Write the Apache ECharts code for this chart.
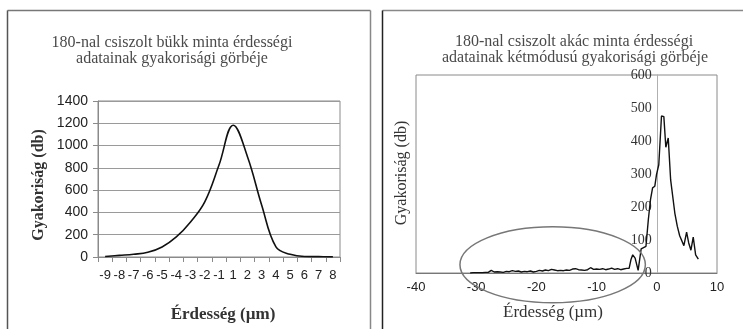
<!DOCTYPE html>
<html><head><meta charset="utf-8">
<script src="https://cdn.jsdelivr.net/npm/echarts@6/dist/echarts.min.js"></script>
<style>html,body{margin:0;padding:0;background:#fff}#c{width:743px;height:329px}</style>
</head><body><div id="c"></div>
<script>
// Left chart (bükk): categories and frequencies
const leftCategories = ['-9','-8','-7','-6','-5','-4','-3','-2','-1','1','2','3','4','5','6','7','8'];
const leftValues = [5, 15, 25, 42, 90, 180, 315, 495, 825, 1183, 900, 465, 90, 24, 4, 3, 1];
const leftYTicks = {min: 0, max: 1400, step: 200};

// Right chart (akác): roughness (µm) and frequency
const rightX = [-31,-30.5,-30,-29.5,-29,-28.5,-28,-27.5,-27,-26.5,-26,-25.5,-25,-24.5,-24,-23.5,-23,-22.5,-22,-21.5,-21,-20.5,-20,-19.5,-19,-18.5,-18,-17.5,-17,-16.5,-16,-15.5,-15,-14.5,-14,-13.5,-13,-12.5,-12,-11.5,-11,-10.5,-10,-9.5,-9,-8.5,-8,-7.5,-7,-6.5,-6,-5.5,-5,-4.6,-4.3,-4,-3.6,-3.1,-2.6,-2.3,-1.8,-1.4,-1.05,-0.7,-0.33,-0.05,0.33,0.78,1.17,1.5,1.9,2.3,2.55,3.0,3.4,3.8,4.1,4.5,4.95,5.3,5.67,6.05,6.45,6.9];
const rightY = [0,1,1,1,1,2,2,8,3,4,3,2,5,4,7,5,6,3,5,4,6,3,5,8,6,9,7,11,9,7,8,7,9,8,12,13,10,9,8,10,16,11,12,11,13,10,12,15,11,13,10,12,14,14,40,55,45,8,73,76,81,163,222,258,263,298,328,476,474,381,409,282,277,181,142,113,109,83,124,91,69,109,55,42];
const rightXTicks = {min: -40, max: 10, step: 10};
const rightYTicks = {min: 0, max: 600, step: 100};
// highlighted region (ellipse) in data units: centre x, centre y, half-width, half-height
const ellipseData = {cx: -17.3, cy: 25, rx: 15.4, ry: 115};

const serif = '"Liberation Serif", "Times New Roman", serif';
const sans = '"Liberation Sans", Arial, sans-serif';

const grid2 = {left: 416, top: 75, width: 301, height: 198};
// the right y axis sits at x = 0 of the value x axis
const yAxisShift = grid2.width * (0 - rightXTicks.min) / (rightXTicks.max - rightXTicks.min);

const chart = echarts.init(document.getElementById('c'), null, {renderer: 'canvas'});
chart.setOption({
  animation: false,
  backgroundColor: '#fff',
  grid: [
    {left: 98, top: 101, width: 242, height: 156, show: true, borderColor: '#8a8a8a', borderWidth: 1, containLabel: false},
    Object.assign({show: true, borderColor: '#8a8a8a', borderWidth: 1, containLabel: false}, grid2)
  ],
  xAxis: [
    {gridIndex: 0, type: 'category', data: leftCategories, boundaryGap: true,
     axisLine: {lineStyle: {color: '#8a8a8a'}},
     axisTick: {show: true, length: 5, lineStyle: {color: '#8a8a8a'}},
     axisLabel: {interval: 0, color: '#222', fontFamily: sans, fontSize: 13, margin: 12},
     splitLine: {show: false}},
    {gridIndex: 1, type: 'value', min: rightXTicks.min, max: rightXTicks.max, interval: rightXTicks.step,
     axisLine: {onZero: false, lineStyle: {color: '#777'}},
     axisTick: {show: false},
     axisLabel: {color: '#222', fontFamily: sans, fontSize: 13, margin: 8},
     splitLine: {show: false}}
  ],
  yAxis: [
    {gridIndex: 0, type: 'value', min: leftYTicks.min, max: leftYTicks.max, interval: leftYTicks.step,
     axisLine: {show: true, lineStyle: {color: '#8a8a8a'}},
     axisTick: {show: true, length: 5, lineStyle: {color: '#8a8a8a'}},
     axisLabel: {color: '#222', fontFamily: sans, fontSize: 14, margin: 10, formatter: v => String(v)},
     splitLine: {show: true, lineStyle: {color: '#9a9a9a', width: 1}}},
    {gridIndex: 1, type: 'value', min: rightYTicks.min, max: rightYTicks.max, interval: rightYTicks.step,
     position: 'left', offset: -yAxisShift,
     axisLine: {show: true, onZero: false, lineStyle: {color: '#b0b0b0'}},
     axisTick: {show: false},
     axisLabel: {color: '#333', fontFamily: serif, fontSize: 14, margin: 5, formatter: v => String(v)},
     splitLine: {show: false}}
  ],
  series: [
    {type: 'line', xAxisIndex: 0, yAxisIndex: 0, data: leftValues, smooth: 0.4, symbol: 'none',
     lineStyle: {color: '#111', width: 1.6}},
    {type: 'line', xAxisIndex: 1, yAxisIndex: 1, data: rightX.map((x, i) => [x, rightY[i]]), symbol: 'none',
     lineStyle: {color: '#111', width: 1.4}}
  ],
  graphic: [
    // panel frames
    {type: 'line', shape: {x1: 7.5, y1: 10.5, x2: 370.5, y2: 10.5}, style: {stroke: '#777', lineWidth: 1.5}},
    {type: 'line', shape: {x1: 7.5, y1: 10.5, x2: 7.5, y2: 340}, style: {stroke: '#555', lineWidth: 1.5}},
    {type: 'line', shape: {x1: 370.5, y1: 10.5, x2: 370.5, y2: 340}, style: {stroke: '#888', lineWidth: 1.5}},
    {type: 'line', shape: {x1: 382.5, y1: 10.5, x2: 760, y2: 10.5}, style: {stroke: '#888', lineWidth: 1.5}},
    {type: 'line', shape: {x1: 382.5, y1: 10.5, x2: 382.5, y2: 340}, style: {stroke: '#222', lineWidth: 1.5}},
    // titles
    {type: 'text', x: 172, y: 43, style: {text: '180-nal csiszolt bükk minta érdességi', font: '16px ' + serif, fill: '#4a4a4a', textAlign: 'center', textVerticalAlign: 'middle'}},
    {type: 'text', x: 172, y: 59, style: {text: 'adatainak gyakorisági görbéje', font: '16px ' + serif, fill: '#4a4a4a', textAlign: 'center', textVerticalAlign: 'middle'}},
    {type: 'text', x: 574, y: 42, style: {text: '180-nal csiszolt akác minta érdességi', font: '16px ' + serif, fill: '#4a4a4a', textAlign: 'center', textVerticalAlign: 'middle'}},
    {type: 'text', x: 575, y: 58, style: {text: 'adatainak kétmódusú gyakorisági görbéje', font: '16px ' + serif, fill: '#4a4a4a', textAlign: 'center', textVerticalAlign: 'middle'}},
    // axis names
    {type: 'text', x: 39, y: 185, rotation: Math.PI / 2, style: {text: 'Gyakoriság (db)', font: 'bold 16px ' + serif, fill: '#333', textAlign: 'center', textVerticalAlign: 'middle'}},
    {type: 'text', x: 223, y: 315, style: {text: 'Érdesség (µm)', font: 'bold 17px ' + serif, fill: '#333', textAlign: 'center', textVerticalAlign: 'middle'}},
    {type: 'text', x: 402, y: 173, rotation: Math.PI / 2, style: {text: 'Gyakoriság (db)', font: '16px ' + serif, fill: '#333', textAlign: 'center', textVerticalAlign: 'middle'}},
    {type: 'text', x: 553, y: 313, style: {text: 'Érdesség (µm)', font: '17px ' + serif, fill: '#333', textAlign: 'center', textVerticalAlign: 'middle'}}
  ]
});

// ellipse annotation positioned via the right chart's scales
const c0 = chart.convertToPixel({xAxisIndex: 1, yAxisIndex: 1}, [ellipseData.cx, ellipseData.cy]);
const c1 = chart.convertToPixel({xAxisIndex: 1, yAxisIndex: 1}, [ellipseData.cx + ellipseData.rx, ellipseData.cy + ellipseData.ry]);
chart.setOption({graphic: [{type: 'ellipse', id: 'ell', z: 100, shape: {cx: c0[0], cy: c0[1], rx: Math.abs(c1[0] - c0[0]), ry: Math.abs(c1[1] - c0[1])}, style: {fill: 'none', stroke: '#777', lineWidth: 1.5}}]});
</script>
</body></html>
